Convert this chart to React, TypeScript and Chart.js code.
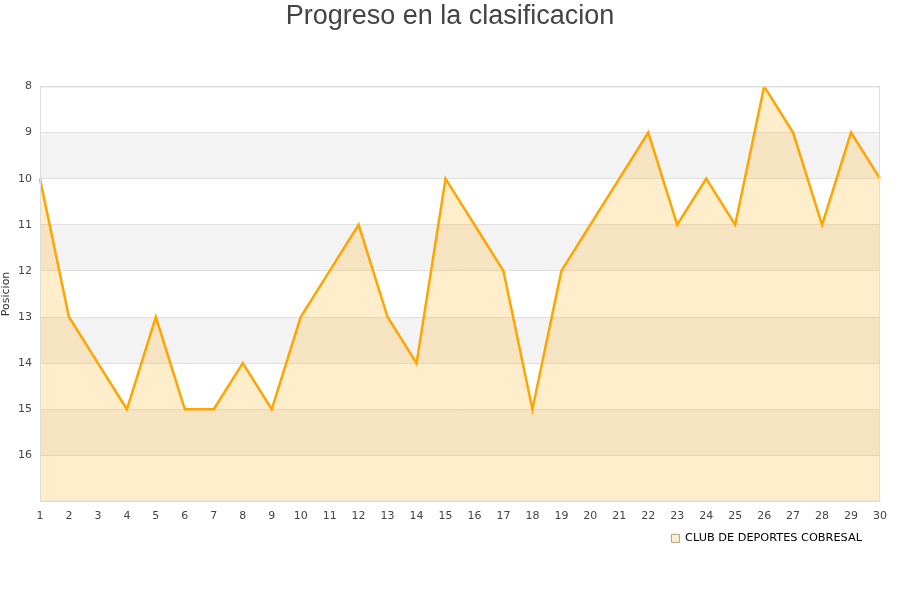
import React, { useEffect, useRef } from "react";
import { Chart, registerables } from "chart.js";

Chart.register(...registerables);

const rounds: string[] = ["1","2","3","4","5","6","7","8","9","10","11","12","13","14","15","16","17","18","19","20","21","22","23","24","25","26","27","28","29","30"];
const positions: number[] = [10,13,14,15,13,15,15,14,15,13,12,11,13,14,10,11,12,15,12,11,10,9,11,10,11,8,9,11,9,10];
const teamName = "CLUB DE DEPORTES COBRESAL";
const bandStarts: number[] = [9, 11, 13, 15];
const yMin = 8;
const yMax = 17;

const bandsPlugin = {
  id: "bands",
  afterLayout(chart: any) {
    const lg = chart.legend;
    if (lg) {
      lg.left -= 8;
      lg.right -= 8;
    }
  },
  beforeDraw(chart: any) {
    const { ctx, chartArea, scales } = chart;
    const y = scales.y;
    ctx.save();
    ctx.fillStyle = "#f3f3f3";
    for (const b of bandStarts) {
      const p1 = y.getPixelForValue(b);
      const p2 = y.getPixelForValue(b + 1);
      ctx.fillRect(chartArea.left, Math.min(p1, p2), chartArea.right - chartArea.left, Math.abs(p2 - p1));
    }
    ctx.restore();
  },
  afterDraw(chart: any) {
    const { ctx, chartArea } = chart;
    ctx.save();
    ctx.strokeStyle = "#dddddd";
    ctx.lineWidth = 1;
    ctx.strokeRect(chartArea.left + 0.5, chartArea.top + 0.5, chartArea.right - chartArea.left - 1, chartArea.bottom - chartArea.top - 1);
    ctx.restore();
  },
};

export default function App() {
  const ref = useRef<HTMLCanvasElement | null>(null);
  useEffect(() => {
    if (!ref.current) return;
    const chart = new Chart(ref.current, {
      type: "line",
      data: {
        labels: rounds,
        datasets: [
          {
            label: teamName,
            data: positions,
            borderColor: "#ffa500",
            backgroundColor: "rgba(255,165,0,0.2)",
            borderWidth: 2.5,
            pointRadius: 0,
            tension: 0,
            fill: { value: yMax },
          },
        ],
      },
      plugins: [bandsPlugin],
      options: {
        animation: false,
        responsive: false,
        maintainAspectRatio: false,
        layout: { padding: { left: 0, right: 0, top: 0, bottom: 46 } },
        plugins: {
          title: {
            display: true,
            text: "Progreso en la clasificacion",
            color: "#444444",
            font: { family: "Liberation Sans, Arial, sans-serif", size: 27, weight: "normal" },
            padding: { top: 0, bottom: 54 },
          },
          legend: {
            display: true,
            position: "bottom",
            align: "end",
            fullSize: false,
            labels: {
              boxWidth: 8,
              boxHeight: 8,
              padding: 10,
              color: "#000000",
              font: { family: "DejaVu Sans, sans-serif", size: 11.3 },
              generateLabels: () => [
                {
                  text: teamName,
                  fillStyle: "#ffeecc",
                  strokeStyle: "#b0a080",
                  lineWidth: 1,
                  datasetIndex: 0,
                  hidden: false,
                },
              ],
            },
          },
          tooltip: { enabled: false },
        },
        scales: {
          x: {
            type: "category",
            offset: false,
            grid: { display: false },
            border: { display: true, color: "#dddddd" },
            ticks: {
              color: "#444444",
              font: { family: "DejaVu Sans, sans-serif", size: 11 },
              maxRotation: 0,
              autoSkip: false,
              padding: 0,
            },
            afterFit: (scale: any) => {
              scale.paddingRight = 20;
            },
          },
          y: {
            reverse: true,
            min: yMin,
            max: yMax,
            grid: { color: "#e0e0e0", drawTicks: false },
            border: { display: true, color: "#dddddd" },
            ticks: {
              stepSize: 1,
              color: "#444444",
              font: { family: "DejaVu Sans, sans-serif", size: 11 },
              padding: 8,
              callback: (v: any) => (Number(v) === yMax ? "" : String(v)),
            },
            title: {
              display: true,
              text: "Posicion",
              color: "#333333",
              font: { family: "DejaVu Sans, sans-serif", size: 11 },
              padding: { top: 0, bottom: 2 },
            },
            afterFit: (scale: any) => {
              scale.width = 40;
            },
          },
        },
      },
    });
    return () => chart.destroy();
  }, []);
  return (
    <div style={{ position: "absolute", left: 0, top: 0, width: 900, height: 600, background: "#ffffff" }}>
      <canvas ref={ref} width={900} height={600} style={{ width: 900, height: 600 }} />
    </div>
  );
}
